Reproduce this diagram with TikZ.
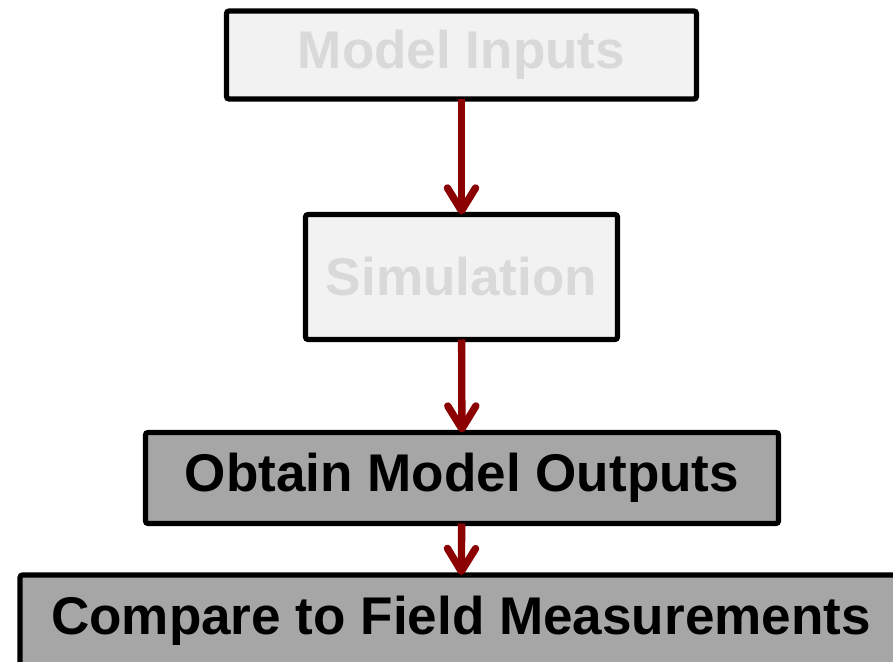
\documentclass[tikz,border=0pt]{standalone}
\usepackage{fontspec}
\setmainfont{Liberation Sans}
\usetikzlibrary{arrows.meta}
\definecolor{flowred}{HTML}{8B0000}
\definecolor{palebox}{HTML}{F2F2F2}
\definecolor{palefont}{HTML}{D9D9D9}
\definecolor{darkbox}{HTML}{A6A6A6}
\begin{document}
\begin{tikzpicture}[x=0.02cm,y=-0.02cm,
  stage/.style={draw=black,line width=3pt,rounded corners=1.5pt,inner sep=0pt,outer sep=0pt,
    font=\bfseries\fontsize{30.2}{36}\selectfont},
  pale/.style={stage,fill=palebox,text=palefont},
  dark/.style={stage,fill=darkbox,text=black},
  flow/.style={draw=flowred,line width=4.2pt,-{Straight Barb[length=13pt,width=16pt,round]}}]
  \clip (0,0) rectangle (893,662);
  \node[pale,minimum width=470*0.02cm,minimum height=88*0.02cm] (inputs) at (461.5,55) {Model Inputs};
  \node[pale,minimum width=312*0.02cm,minimum height=125*0.02cm] (sim) at (461.5,277) {Simulation};
  \node[dark,minimum width=633*0.02cm,minimum height=91*0.02cm] (outputs) at (462,478) {Obtain Model Outputs};
  \node[dark,minimum width=882*0.02cm,minimum height=92*0.02cm] (compare) at (461,621) {Compare to Field Measurements};
  \draw[flow] (inputs) -- (sim);
  \draw[flow] (sim) -- (outputs);
  \draw[flow] (outputs) -- (compare);
\end{tikzpicture}
\end{document}
